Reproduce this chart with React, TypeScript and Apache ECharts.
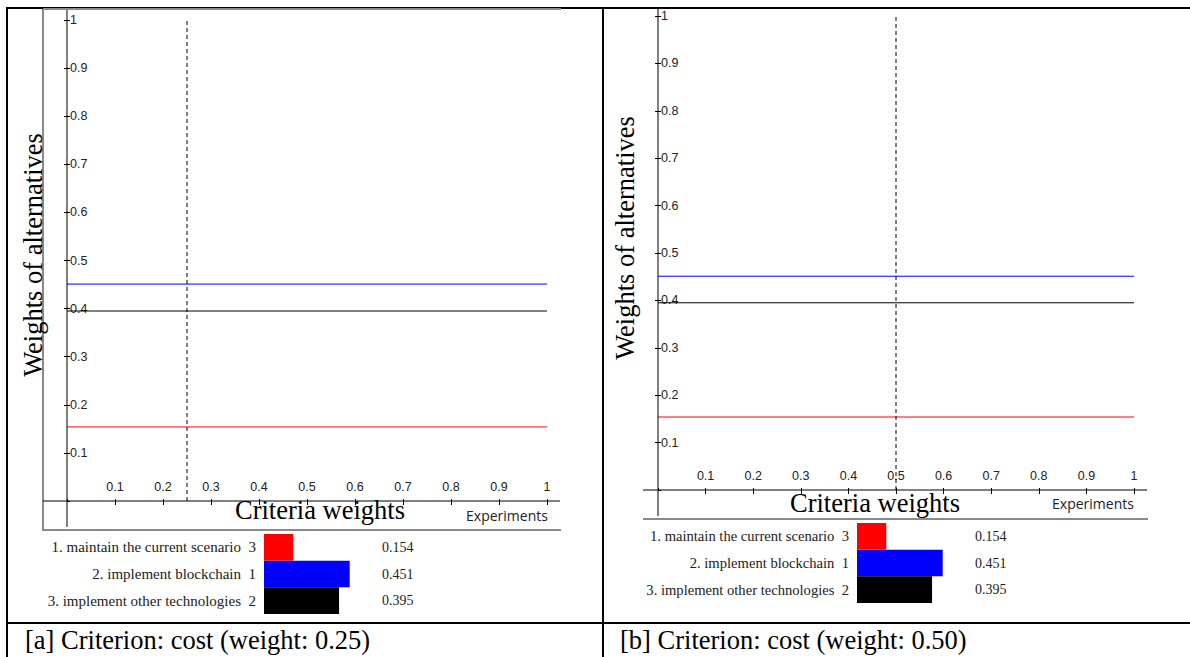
import React, { useEffect, useRef } from "react";
import * as echarts from "echarts";

// ---- data ----
const alternatives = [
  "1. maintain the current scenario",
  "2. implement blockchain",
  "3. implement other technologies",
];
const ranks = [3, 1, 2];
const weights = [0.154, 0.451, 0.395];
const altColors = ["#ff0000", "#0000ff", "#000000"];
const criterionWeights = [0.25, 0.5];
const captions = [
  "[a] Criterion: cost (weight: 0.25)",
  "[b] Criterion: cost (weight: 0.50)",
];
const xAxisTitle = "Criteria weights";
const yAxisTitle = "Weights of alternatives";
const xAxisTag = "Experiments";

// ---- layout ----
const panels = [
  {
    line: { left: 67, top: 20, width: 480, height: 481 },
    bar: { left: 264, top: 534, width: 190, height: 80 },
    yLine: [10, 527],
    xLine: [43, 560],
    bottomGray: 530,
    xTitle: [320, 510],
    yTitle: [33, 255],
    tag: [507, 515],
    caption: [25, 640],
    labelSize: 15,
  },
  {
    line: { left: 658, top: 16, width: 476, height: 474 },
    bar: { left: 857, top: 523, width: 190, height: 80 },
    yLine: [8, 516],
    xLine: [643, 1147],
    bottomGray: 519,
    xTitle: [875, 503],
    yTitle: [625, 238],
    tag: [1093, 503],
    caption: [620, 640],
    labelSize: 14.6,
  },
];

const SANS = "Liberation Sans";
const SERIF = "Liberation Serif";

export default function App() {
  const ref = useRef<HTMLDivElement>(null);
  useEffect(() => {
    if (!ref.current) return;
    const chart = echarts.init(ref.current, null, { renderer: "svg" });

    const grid: any[] = [];
    const xAxis: any[] = [];
    const yAxis: any[] = [];
    const series: any[] = [];
    const graphic: any[] = [];

    const black = { stroke: "#000", lineWidth: 2 };
    const gray = { stroke: "#8a8a8a", lineWidth: 2 };

    // table borders
    graphic.push({ type: "line", shape: { x1: 7, y1: 8, x2: 1190, y2: 8 }, style: black, z: 10 });
    graphic.push({ type: "line", shape: { x1: 7, y1: 7, x2: 7, y2: 657 }, style: black, z: 10 });
    graphic.push({ type: "line", shape: { x1: 603, y1: 7, x2: 603, y2: 657 }, style: black, z: 10 });
    graphic.push({ type: "line", shape: { x1: 7, y1: 623, x2: 1190, y2: 623 }, style: black, z: 10 });
    // panel a frame
    graphic.push({ type: "line", shape: { x1: 43, y1: 9, x2: 561, y2: 9 }, style: gray, z: 11 });
    graphic.push({ type: "line", shape: { x1: 43, y1: 9, x2: 43, y2: 531 }, style: gray, z: 11 });

    panels.forEach((p, pi) => {
      const gi = grid.length;
      grid.push({ ...p.line, containLabel: false });
      grid.push({ ...p.bar, containLabel: false });
      const zeroY = p.line.top + p.line.height;
      // axis lines
      graphic.push({
        type: "line",
        shape: { x1: p.line.left, y1: p.yLine[0], x2: p.line.left, y2: p.yLine[1] },
        style: { stroke: "#000", lineWidth: 1 },
        z: 12,
      });
      graphic.push({
        type: "line",
        shape: { x1: p.xLine[0], y1: zeroY, x2: p.xLine[1], y2: zeroY },
        style: { stroke: "#000", lineWidth: 1 },
        z: 12,
      });
      graphic.push({
        type: "line",
        shape: { x1: p.xLine[0], y1: p.bottomGray, x2: p.xLine[1] + 1, y2: p.bottomGray },
        style: gray,
        z: 11,
      });
      // texts
      graphic.push({
        type: "text",
        x: p.xTitle[0],
        y: p.xTitle[1],
        style: {
          text: xAxisTitle,
          font: `26.5px "${SERIF}"`,
          fill: "#000",
          textAlign: "center",
          textVerticalAlign: "middle",
        },
        z: 13,
      });
      graphic.push({
        type: "text",
        x: p.yTitle[0],
        y: p.yTitle[1],
        rotation: Math.PI / 2,
        style: {
          text: yAxisTitle,
          font: `26.5px "${SERIF}"`,
          fill: "#000",
          textAlign: "center",
          textVerticalAlign: "middle",
        },
        z: 13,
      });
      graphic.push({
        type: "text",
        x: p.tag[0],
        y: p.tag[1],
        style: {
          text: xAxisTag,
          font: `14px "Open Sans"`,
          fill: "#222",
          textAlign: "center",
          textVerticalAlign: "middle",
        },
        z: 13,
      });
      graphic.push({
        type: "text",
        x: p.caption[0],
        y: p.caption[1],
        style: {
          text: captions[pi],
          font: `26.5px "${SERIF}"`,
          fill: "#000",
          textAlign: "left",
          textVerticalAlign: "middle",
        },
        z: 13,
      });

      // line chart axes
      const xi = xAxis.length;
      const yi = yAxis.length;
      const lbl = { fontFamily: SANS, fontSize: 12.5, color: "#222" };
      xAxis.push({
        type: "value",
        gridIndex: gi,
        min: 0,
        max: 1,
        interval: 0.1,
        axisLine: { show: false },
        axisTick: { show: true, length: 4, lineStyle: { color: "#000" } },
        axisLabel: { ...lbl, inside: true, margin: 8, showMinLabel: false, formatter: (v: number) => String(+v.toFixed(1)) },
        splitLine: { show: false },
      });
      xAxis.push({
        type: "value",
        gridIndex: gi,
        min: 0,
        max: 1,
        interval: 0.1,
        position: "bottom",
        axisLine: { show: false },
        axisTick: { show: true, inside: true, length: 2, lineStyle: { color: "#000" } },
        axisLabel: { show: false },
        splitLine: { show: false },
      });
      yAxis.push({
        type: "value",
        gridIndex: gi,
        min: 0,
        max: 1,
        interval: 0.1,
        axisLine: { show: false },
        axisTick: { show: true, length: 3, lineStyle: { color: "#000" } },
        axisLabel: { ...lbl, inside: true, margin: 3, showMinLabel: false, formatter: (v: number) => String(+v.toFixed(1)) },
        splitLine: { show: false },
      });
      yAxis.push({
        type: "value",
        gridIndex: gi,
        min: 0,
        max: 1,
        interval: 0.1,
        position: "left",
        axisLine: { show: false },
        axisTick: { show: true, inside: true, length: 3, lineStyle: { color: "#000" } },
        axisLabel: { show: false },
        splitLine: { show: false },
      });

      weights.forEach((w, i) => {
        series.push({
          type: "line",
          xAxisIndex: xi,
          yAxisIndex: yi,
          data: [
            [0, w],
            [1, w],
          ],
          showSymbol: false,
          lineStyle: { color: altColors[i], width: 1 },
          silent: true,
        });
      });
      series.push({
        type: "line",
        xAxisIndex: xi,
        yAxisIndex: yi,
        data: [
          [criterionWeights[pi], 0],
          [criterionWeights[pi], 1],
        ],
        showSymbol: false,
        lineStyle: { color: "#000", width: 1, type: [4, 3] },
        silent: true,
      });

      // bar chart axes
      const bxi = xAxis.length;
      const byi = yAxis.length;
      xAxis.push({
        type: "value",
        gridIndex: gi + 1,
        min: 0,
        max: 1,
        show: false,
      });
      yAxis.push({
        type: "category",
        gridIndex: gi + 1,
        data: alternatives,
        inverse: true,
        axisLine: { show: false },
        axisTick: { show: false },
        axisLabel: {
          margin: 8,
          fontFamily: SERIF,
          fontSize: p.labelSize,
          color: "#222",
          formatter: (v: string, idx: number) => `${v}  ${ranks[idx]}`,
        },
        splitLine: { show: false },
      });
      series.push({
        type: "bar",
        xAxisIndex: bxi,
        yAxisIndex: byi,
        barCategoryGap: "0%",
        data: weights.map((w, i) => ({ value: w, itemStyle: { color: altColors[i] } })),
        label: {
          show: true,
          position: [118, "50%"],
          align: "left",
          verticalAlign: "middle",
          fontFamily: SERIF,
          fontSize: 14,
          color: "#222",
          formatter: (d: any) => Number(d.value).toFixed(3),
        },
        silent: true,
      });
    });

    chart.setOption({
      animation: false,
      backgroundColor: "#fff",
      grid,
      xAxis,
      yAxis,
      series,
      graphic,
    });
    return () => chart.dispose();
  }, []);

  return (
    <div
      ref={ref}
      style={{ position: "absolute", left: 0, top: 0, width: 1190, height: 657 }}
    />
  );
}
